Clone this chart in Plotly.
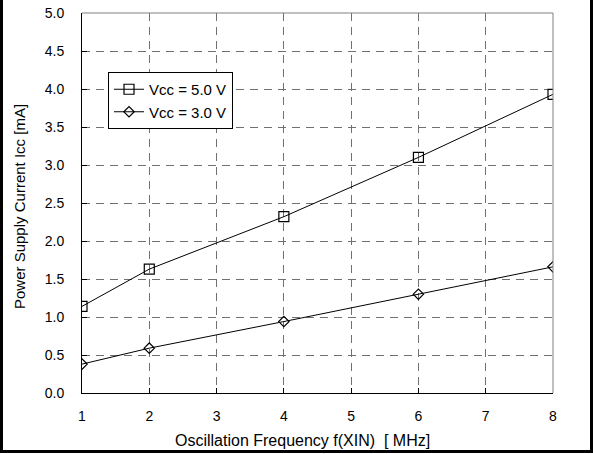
import plotly.graph_objects as go

freq = [1, 2, 4, 6, 8]
icc_5v = [1.14, 1.63, 2.32, 3.10, 3.93]
icc_3v = [0.38, 0.59, 0.94, 1.30, 1.66]
x_ticks = [1, 2, 3, 4, 5, 6, 7, 8]
y_ticks = [0.0, 0.5, 1.0, 1.5, 2.0, 2.5, 3.0, 3.5, 4.0, 4.5, 5.0]
x_title = "Oscillation Frequency f(XIN)  [ MHz]"
y_title = "Power Supply Current Icc [mA]"

W, H = 593, 454
L, R, T, B = 82, 40, 13, 61
pw, ph = W - L - R, H - T - B

def px_x(p):
    return (p - L) / pw

def px_y(p):
    return (H - B - p) / ph

fig = go.Figure()
fig.add_trace(go.Scatter(
    x=freq, y=icc_5v, name="Vcc = 5.0 V", mode="lines+markers",
    line=dict(color="black", width=1),
    marker=dict(symbol="square-open", size=10, color="black", line=dict(width=1.2)),
))
fig.add_trace(go.Scatter(
    x=freq, y=icc_3v, name="Vcc = 3.0 V", mode="lines+markers",
    line=dict(color="black", width=1),
    marker=dict(symbol="diamond-open", size=8, color="black", line=dict(width=1.2)),
))

font = "Liberation Sans, Arial, sans-serif"
fig.update_layout(
    width=W, height=H,
    margin=dict(l=L, r=R, t=T, b=B, pad=0, autoexpand=False),
    paper_bgcolor="white", plot_bgcolor="white",
    font=dict(family=font, size=14, color="black"),
    showlegend=True,
    legend=dict(
        x=px_x(108), y=px_y(72), xanchor="left", yanchor="top",
        bgcolor="white", bordercolor="black", borderwidth=1,
        font=dict(size=15), tracegroupgap=0, itemwidth=30,
    ),
    xaxis=dict(
        range=[1, 8], tickvals=x_ticks, ticktext=[str(v) for v in x_ticks],
        showgrid=True, gridcolor="#707070", griddash="8px,6px", gridwidth=1,
        showline=True, linecolor="black", linewidth=1, mirror=False,
        ticks="inside", ticklen=5, tickcolor="black",
        zeroline=False, automargin=False,
        ticklabelstandoff=10,
        tickfont=dict(size=14),
    ),
    yaxis=dict(
        range=[0, 5], tickvals=y_ticks, ticktext=[f"{v:.1f}" for v in y_ticks],
        showgrid=True, gridcolor="#707070", griddash="8px,6px", gridwidth=1,
        showline=True, linecolor="black", linewidth=1, mirror=False,
        ticks="inside", ticklen=5, tickcolor="black",
        zeroline=False, automargin=False,
        ticklabelstandoff=14,
        tickfont=dict(size=14),
    ),
    annotations=[
        dict(text=x_title, xref="paper", yref="paper", x=px_x(302), y=px_y(440),
             xanchor="center", yanchor="middle", showarrow=False, font=dict(size=16)),
        dict(text=y_title, xref="paper", yref="paper", x=px_x(19), y=px_y(207),
             xanchor="center", yanchor="middle", showarrow=False, textangle=-90,
             font=dict(size=15)),
    ],
)

# right and top plot borders (gray)
fig.add_shape(type="line", xref="paper", yref="paper", x0=1, x1=1, y0=0, y1=1,
              line=dict(color="#808080", width=1))
fig.add_shape(type="line", xref="paper", yref="paper", x0=0, x1=1, y0=1, y1=1,
              line=dict(color="#808080", width=1))

# outer frame
fig.add_shape(type="rect", xref="paper", yref="paper",
              x0=px_x(1.5), x1=px_x(591.5), y0=px_y(451.5), y1=px_y(-10),
              line=dict(color="black", width=3), fillcolor="rgba(0,0,0,0)", layer="above")

fig.write_html("out.html", config={"displayModeBar": False},
               post_script="document.body.style.margin='0px';document.body.style.overflow='hidden';")
